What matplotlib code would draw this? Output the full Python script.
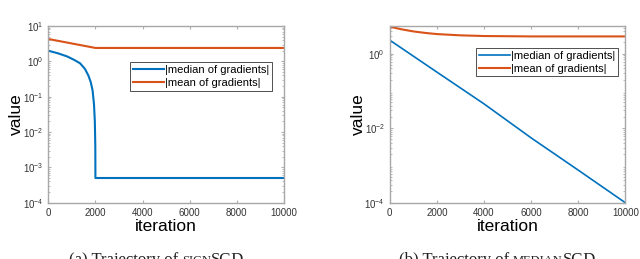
import matplotlib
matplotlib.use("Agg")
import matplotlib.pyplot as plt
from matplotlib.offsetbox import TextArea, HPacker, AnnotationBbox

plt.rcParams['font.family'] = ['Liberation Sans', 'DejaVu Sans']

# (a) signSGD
t_med_a = [0, 400, 800, 1100, 1350, 1550, 1700, 1800, 1880, 1940, 1975, 1995, 2000, 10000]
med_a = [2.0, 1.7, 1.38, 1.1, 0.88, 0.62, 0.4, 0.26, 0.15, 0.06, 0.02, 0.004, 5e-4, 5e-4]
t_mean_a = [0, 2000, 10000]
mean_a = [4.3, 2.4, 2.4]

# (b) medianSGD
t_med_b = [0, 2000, 4000, 6000, 8000, 10000]
med_b = [2.3, 0.32, 0.045, 0.0055, 0.00075, 1e-4]
t_mean_b = [0, 500, 1000, 1500, 2000, 3000, 4000, 6000, 10000]
mean_b = [5.3, 4.5, 3.95, 3.6, 3.35, 3.1, 2.97, 2.9, 2.9]

labels = ["|median of gradients|", "|mean of gradients|"]
xticks = [0, 2000, 4000, 6000, 8000, 10000]
blue = "#0072bd"
orange = "#d95319"

fig = plt.figure(figsize=(6.4, 2.59), dpi=100)
ax1 = fig.add_axes([0.0755, 0.2174, 0.368, 0.682])
ax2 = fig.add_axes([0.609, 0.2174, 0.368, 0.682])
for ax in (ax1, ax2):
    ax.set_yscale("log")

ax1.plot(t_med_a, med_a, color=blue, lw=1.5)
ax1.plot(t_mean_a, mean_a, color=orange, lw=1.5)
ax1.set_ylim(1e-4, 10)
ax1.set_yticks([1e1, 1e0, 1e-1, 1e-2, 1e-3, 1e-4])

ax2.plot(t_med_b, med_b, color=blue, lw=1.2)
ax2.plot(t_mean_b, mean_b, color=orange, lw=1.5)
ax2.set_yticks([1e0, 1e-2, 1e-4])
ax2.set_ylim(1e-4, 5.5)

anchors = [(0.95, 0.795), (0.969, 0.876)]
for ax, anc in zip([ax1, ax2], anchors):
    ax.set_xlim(0, 10000)
    ax.set_xticks(xticks)
    ax.tick_params(which="both", direction="in", top=True, right=True,
                   labelsize=7, colors="#b0b0b0", labelcolor="#333333", length=2.5)
    ax.tick_params(which="minor", length=1.5)
    for s in ax.spines.values():
        s.set_color("#a8a8a8")
        s.set_linewidth(1.0)
    ax.set_xlabel("iteration", fontsize=12.5, labelpad=1)
    ax.set_ylabel("value", fontsize=12.5, labelpad=-1)
    leg = ax.legend(labels, loc="upper right", bbox_to_anchor=anc, fontsize=8,
                    fancybox=False, framealpha=1, edgecolor="#333333",
                    handlelength=2.8, handletextpad=0.1, borderpad=0.25,
                    labelspacing=0.25, borderaxespad=0)
    leg.get_frame().set_linewidth(0.6)

# captions (cut at the bottom edge, as in the source)
def caption(x, pre, sc, rest):
    serif = dict(family="Liberation Serif", color="#222222")
    parts = [TextArea(pre, textprops=dict(size=12, **serif)),
             TextArea(sc, textprops=dict(size=9, **serif)),
             TextArea(rest, textprops=dict(size=12, **serif))]
    box = HPacker(children=parts, align="baseline", pad=0, sep=0)
    ab = AnnotationBbox(box, (x, -0.035), xycoords="figure fraction",
                        frameon=False, box_alignment=(0.5, 0.0), pad=0)
    fig.add_artist(ab)

caption(0.245, "(a) Trajectory of ", "SIGN", "SGD")
caption(0.777, "(b) Trajectory of ", "MEDIAN", "SGD")

fig.savefig("out.png", dpi=100)
